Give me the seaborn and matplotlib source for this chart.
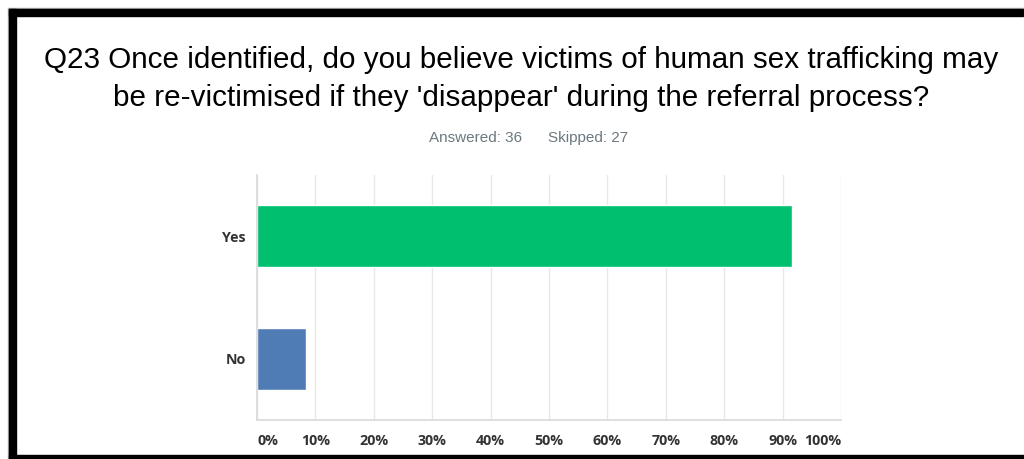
import matplotlib
matplotlib.use("Agg")
import matplotlib.pyplot as plt
from matplotlib.patches import Rectangle
import seaborn as sns
import pandas as pd

# Survey responses (percent of answered)
answers = ["Yes", "No"]
percents = [91.67, 8.33]
bar_colors = ["#00BF6F", "#507CB6"]
tick_values = [0, 10, 20, 30, 40, 50, 60, 70, 80, 90, 100]
tick_labels = ["0%", "10%", "20%", "30%", "40%", "50%", "60%", "70%", "80%", "90%", "100%"]

title = ("Q23 Once identified, do you believe victims of human sex trafficking may\n"
         "be re-victimised if they 'disappear' during the referral process?")
answered_text = "Answered: 36"
skipped_text = "Skipped: 27"

df = pd.DataFrame({"answer": answers, "percent": percents})

sns.set_theme(style="white")
plt.rcParams["font.family"] = ["Liberation Sans", "DejaVu Sans"]

W, H = 1024, 459
fig = plt.figure(figsize=(W / 100, H / 100), dpi=100)
ax = fig.add_axes([257 / W, 1 - 420 / H, (841 - 257) / W, (420 - 175) / H])

sns.barplot(data=df, x="percent", y="answer", hue="answer", order=answers,
            palette=dict(zip(answers, bar_colors)), orient="h", width=0.51,
            legend=False, ax=ax, saturation=1)

ax.set_xlim(0, 100)
ax.set_xticks(tick_values)
ax.set_xticklabels(tick_labels)
ax.set_xlabel("")
ax.set_ylabel("")
ax.xaxis.grid(True, color="#e8e8e8", linewidth=1)
ax.set_axisbelow(True)
for side in ["top", "right"]:
    ax.spines[side].set_visible(False)
for side in ["left", "bottom"]:
    ax.spines[side].set_color("#d9d9d9")
    ax.spines[side].set_linewidth(1.2)

ax.tick_params(axis="x", length=0, pad=10)
ax.tick_params(axis="y", length=0, pad=8)
for lbl in ax.get_xticklabels() + ax.get_yticklabels():
    lbl.set_family(["Open Sans", "DejaVu Sans"])
    lbl.set_fontweight("bold")
    lbl.set_fontsize(10.3)
    lbl.set_color("#333333")
xl = ax.get_xticklabels()
xl[0].set_horizontalalignment("left")
xl[-1].set_horizontalalignment("right")

fig.text(521 / W, 1 - 79 / H, title, ha="center", va="center", fontsize=21.3,
         color="#000000", linespacing=1.45)
fig.text(522 / W, 1 - 138 / H, answered_text, ha="right", va="center", fontsize=11,
         color="#6b787f")
fig.text(548 / W, 1 - 138 / H, skipped_text, ha="left", va="center", fontsize=11,
         color="#6b787f")

# Frame around the figure
def px_rect(x0, y0, x1, y1, color):
    fig.patches.append(Rectangle((x0 / W, 1 - y1 / H), (x1 - x0) / W, (y1 - y0) / H,
                                 transform=fig.transFigure, color=color, zorder=10))

px_rect(8, 8, 1023, 9, "#b0b0b0")
px_rect(8, 8, 9, 459, "#b0b0b0")
px_rect(9, 9, 1023, 16, "#000000")
px_rect(9, 9, 16, 459, "#000000")
px_rect(9, 455, 1024, 459, "#000000")

fig.savefig("out.png", dpi=100)
